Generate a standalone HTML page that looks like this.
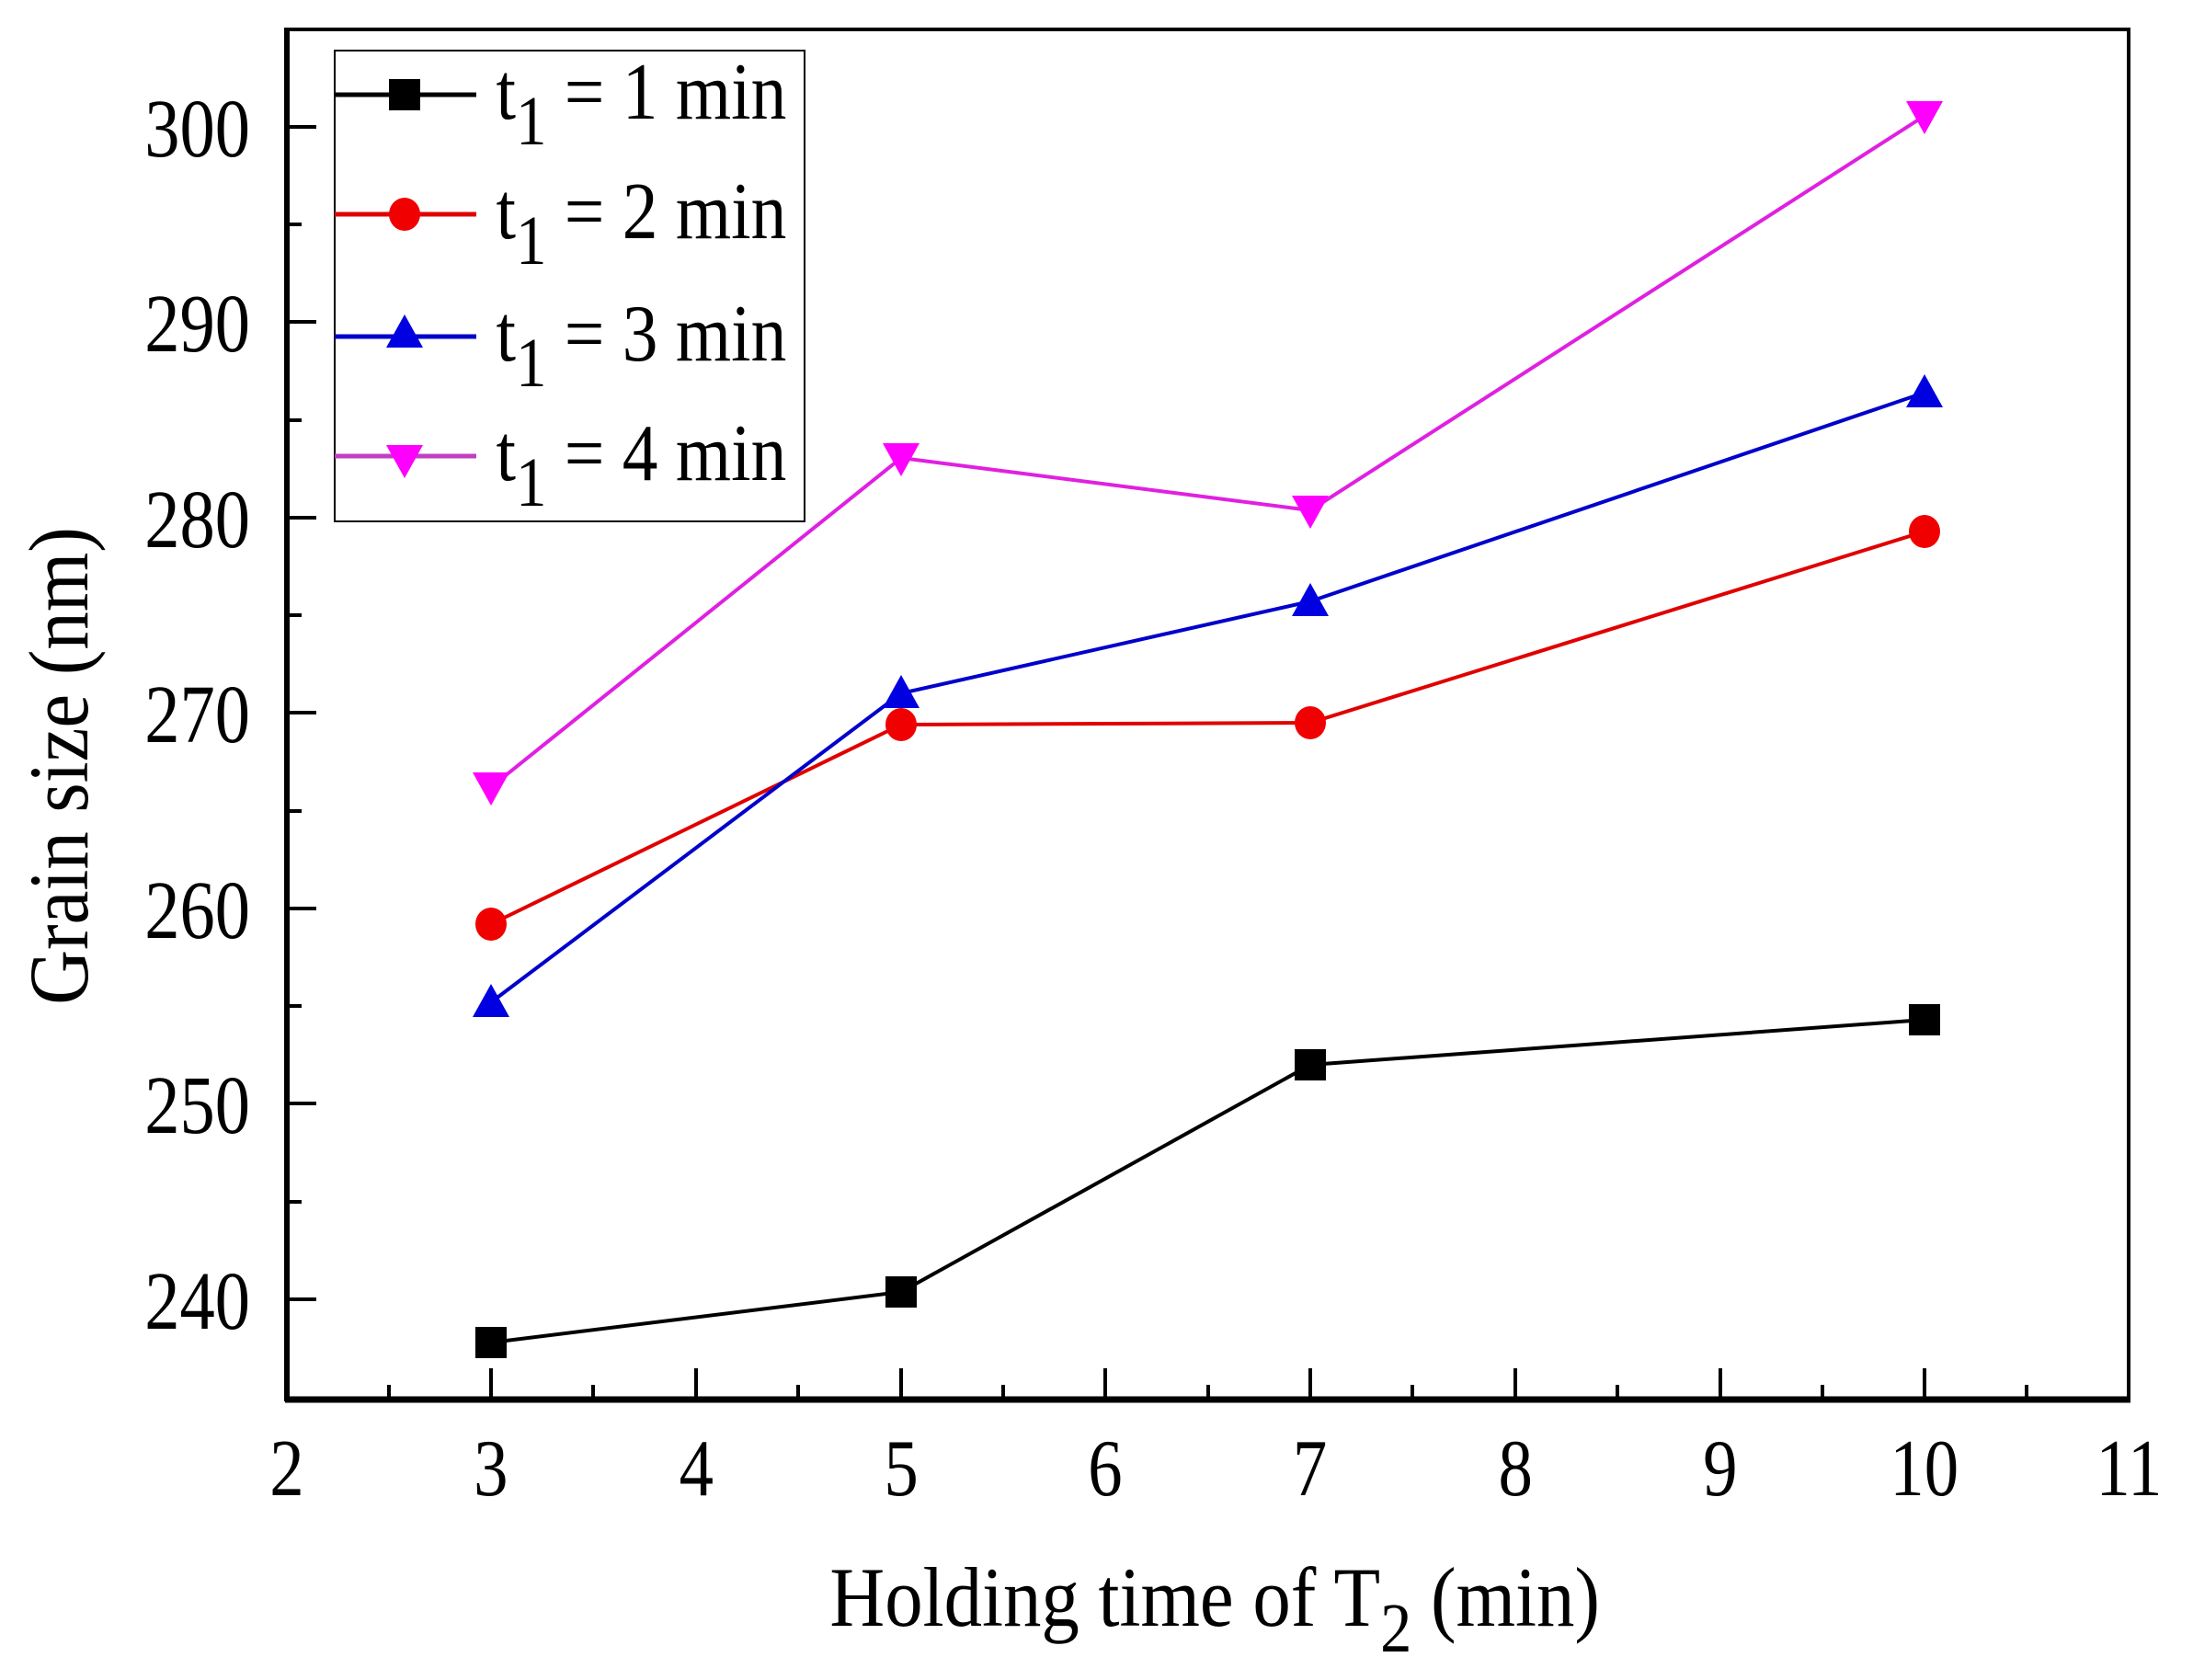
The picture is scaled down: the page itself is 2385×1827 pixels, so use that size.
<!DOCTYPE html>
<html><head><meta charset="utf-8"><style>
html,body{margin:0;padding:0;background:#fff}
svg{display:block}
text{font-family:"Liberation Serif",serif;fill:#000}
</style></head><body>
<svg width="2385" height="1827" viewBox="0 0 2385 1827" xmlns="http://www.w3.org/2000/svg">
<defs>
<g id="sq"><rect x="-17" y="-17" width="34" height="34"/></g>
<g id="ci"><ellipse cx="0" cy="0" rx="17" ry="18"/></g>
<g id="tu"><polygon points="0,-20 20,16 -20,16"/></g>
<g id="td"><polygon points="0,20 20,-16 -20,-16"/></g>
</defs>
<rect x="312" y="32" width="2003" height="1490" fill="none" stroke="#000" stroke-width="4"/>
<line x1="310" y1="1522" x2="2317" y2="1522" stroke="#000" stroke-width="7"/>
<line x1="312" y1="30" x2="312" y2="1524" stroke="#000" stroke-width="6"/>
<g stroke="#000" stroke-width="4">
<line x1="534" y1="1522" x2="534" y2="1488"/><line x1="757" y1="1522" x2="757" y2="1488"/>
<line x1="980" y1="1522" x2="980" y2="1488"/><line x1="1202" y1="1522" x2="1202" y2="1488"/>
<line x1="1425" y1="1522" x2="1425" y2="1488"/><line x1="1648" y1="1522" x2="1648" y2="1488"/>
<line x1="1871" y1="1522" x2="1871" y2="1488"/><line x1="2093" y1="1522" x2="2093" y2="1488"/>
<line x1="423" y1="1522" x2="423" y2="1506"/><line x1="645" y1="1522" x2="645" y2="1506"/>
<line x1="868" y1="1522" x2="868" y2="1506"/><line x1="1091" y1="1522" x2="1091" y2="1506"/>
<line x1="1314" y1="1522" x2="1314" y2="1506"/><line x1="1536" y1="1522" x2="1536" y2="1506"/>
<line x1="1759" y1="1522" x2="1759" y2="1506"/><line x1="1982" y1="1522" x2="1982" y2="1506"/>
<line x1="2204" y1="1522" x2="2204" y2="1506"/>
<line x1="312" y1="138" x2="344" y2="138"/><line x1="312" y1="350" x2="344" y2="350"/>
<line x1="312" y1="563" x2="344" y2="563"/><line x1="312" y1="775" x2="344" y2="775"/>
<line x1="312" y1="988" x2="344" y2="988"/><line x1="312" y1="1200" x2="344" y2="1200"/>
<line x1="312" y1="1413" x2="344" y2="1413"/>
<line x1="312" y1="244" x2="328" y2="244"/><line x1="312" y1="457" x2="328" y2="457"/>
<line x1="312" y1="669" x2="328" y2="669"/><line x1="312" y1="882" x2="328" y2="882"/>
<line x1="312" y1="1094" x2="328" y2="1094"/><line x1="312" y1="1307" x2="328" y2="1307"/>
</g>
<g font-size="90" text-anchor="end" transform="scale(0.85,1)">
<text x="320" y="170">300</text><text x="320" y="382">290</text><text x="320" y="595">280</text>
<text x="320" y="807">270</text><text x="320" y="1020">260</text><text x="320" y="1232">250</text>
<text x="320" y="1445">240</text>
</g>
<g font-size="88" text-anchor="middle" transform="scale(0.85,1)">
<text x="367" y="1626">2</text><text x="628" y="1626">3</text><text x="891" y="1626">4</text>
<text x="1153" y="1626">5</text><text x="1414" y="1626">6</text><text x="1676" y="1626">7</text>
<text x="1939" y="1626">8</text><text x="2201" y="1626">9</text><text x="2462" y="1626">10</text>
<text x="2724" y="1626">11</text>
</g>
<g transform="scale(0.9,1)">
<text x="1468" y="1768" font-size="92" text-anchor="middle">Holding time of T<tspan font-size="76" dy="28">2</tspan><tspan dy="-28"> (min)</tspan></text>
</g>
<text transform="translate(95,833) rotate(-90) scale(0.9,1)" font-size="92" text-anchor="middle">Grain size (nm)</text>
<g fill="none" stroke-width="4">
<polyline stroke="#000" points="534,1460 980,1405 1425,1158 2093,1109"/>
<polyline stroke="#e00000" points="534,1005 980,788 1425,786 2093,578"/>
<polyline stroke="#0000cc" points="534,1090 980,754 1425,654 2093,427"/>
<polyline stroke="#e020e0" points="534,856 980,498 1425,555 2093,126"/>
</g>
<g fill="#000"><use href="#sq" x="534" y="1460"/><use href="#sq" x="980" y="1405"/><use href="#sq" x="1425" y="1158"/><use href="#sq" x="2093" y="1109"/></g>
<g fill="#f00000"><use href="#ci" x="534" y="1005"/><use href="#ci" x="980" y="788"/><use href="#ci" x="1425" y="786"/><use href="#ci" x="2093" y="578"/></g>
<g fill="#0000e0"><use href="#tu" x="534" y="1090"/><use href="#tu" x="980" y="754"/><use href="#tu" x="1425" y="654"/><use href="#tu" x="2093" y="427"/></g>
<g fill="#ff00ff"><use href="#td" x="534" y="856"/><use href="#td" x="980" y="498"/><use href="#td" x="1425" y="555"/><use href="#td" x="2093" y="126"/></g>
<rect x="364" y="55" width="511" height="512" fill="#fff" stroke="#000" stroke-width="2"/>
<line x1="364" y1="103" x2="518" y2="103" stroke="#000" stroke-width="5"/>
<line x1="364" y1="233" x2="518" y2="233" stroke="#e00000" stroke-width="5"/>
<line x1="364" y1="366" x2="518" y2="366" stroke="#0000cc" stroke-width="5"/>
<line x1="364" y1="496" x2="518" y2="496" stroke="#c040c0" stroke-width="5"/>
<use href="#sq" x="440" y="103" fill="#000"/>
<use href="#ci" x="440" y="233" fill="#f00000"/>
<use href="#tu" x="440" y="362" fill="#0000e0"/>
<use href="#td" x="440" y="500" fill="#ff00ff"/>
<g font-size="88" transform="scale(0.88,1)">
<text x="613" y="129">t<tspan font-size="76" dy="28">1</tspan><tspan dy="-28"> = 1 min</tspan></text>
<text x="613" y="259">t<tspan font-size="76" dy="28">1</tspan><tspan dy="-28"> = 2 min</tspan></text>
<text x="613" y="392">t<tspan font-size="76" dy="28">1</tspan><tspan dy="-28"> = 3 min</tspan></text>
<text x="613" y="522">t<tspan font-size="76" dy="28">1</tspan><tspan dy="-28"> = 4 min</tspan></text>
</g>
</svg>
</body></html>
